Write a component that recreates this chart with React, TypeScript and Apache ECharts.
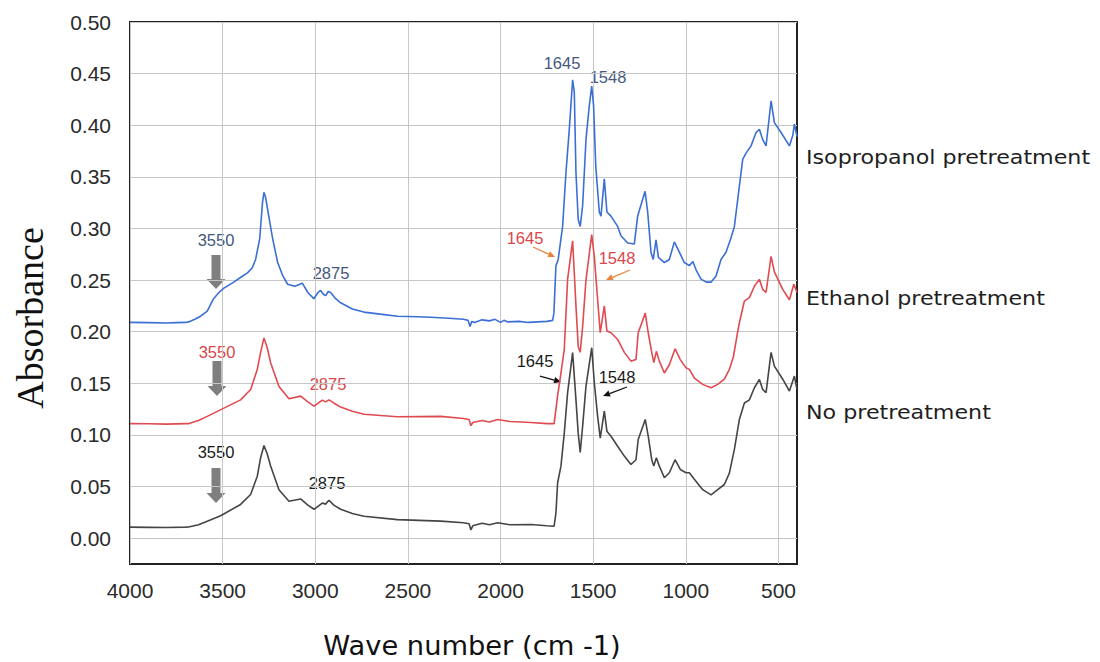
import React, { useEffect, useRef } from "react";
import * as echarts from "echarts";

const seriesNames = ["Isopropanol pretreatment", "Ethanol pretreatment", "No pretreatment"];
const lineColors = ["#3b6fd6", "#e04a50", "#454545"];

const xTicks = [4000, 3500, 3000, 2500, 2000, 1500, 1000, 500];
const yTicks = [0, 0.05, 0.1, 0.15, 0.2, 0.25, 0.3, 0.35, 0.4, 0.45, 0.5];

const isoWave = [4000,3900,3800,3750,3700,3684,3650,3619,3583,3549,3520,3495,3440,3400,3366,3340,3322,3300,3285,3277,3268,3251,3230,3203,3175,3149,3110,3070,3040,3008,2985,2971,2955,2944,2930,2917,2890,2863,2800,2738,2650,2555,2450,2377,2280,2200,2175,2165,2155,2140,2100,2060,2030,2000,1982,1960,1900,1850,1800,1750,1719,1712,1701,1689,1665,1647,1629,1611,1602,1593,1581,1570,1557,1539,1521,1508,1498,1486,1467,1458,1440,1426,1404,1368,1350,1314,1278,1260,1220,1206,1188,1176,1161,1148,1116,1089,1062,1035,1008,981,962,945,918,890,864,837,810,783,756,738,711,693,675,648,621,603,585,567,540,522,486,441,423,414,400];
const isoAbs = [0.209,0.2088,0.2085,0.2088,0.209,0.2095,0.212,0.215,0.22,0.232,0.238,0.242,0.248,0.253,0.257,0.262,0.27,0.29,0.325,0.335,0.33,0.312,0.29,0.267,0.254,0.246,0.244,0.247,0.238,0.232,0.238,0.24,0.236,0.235,0.239,0.238,0.232,0.228,0.222,0.219,0.217,0.215,0.2145,0.214,0.213,0.212,0.211,0.205,0.21,0.209,0.2115,0.2105,0.212,0.209,0.211,0.2095,0.21,0.209,0.2095,0.21,0.211,0.218,0.264,0.27,0.302,0.354,0.396,0.444,0.432,0.354,0.309,0.302,0.322,0.386,0.419,0.438,0.419,0.36,0.316,0.312,0.348,0.316,0.312,0.302,0.293,0.286,0.285,0.312,0.336,0.316,0.277,0.27,0.289,0.272,0.267,0.27,0.287,0.277,0.267,0.264,0.268,0.26,0.251,0.248,0.248,0.254,0.27,0.277,0.291,0.302,0.341,0.367,0.373,0.38,0.393,0.396,0.386,0.38,0.4235,0.4025,0.393,0.38,0.39,0.401,0.389];

const ethWave = [4000,3900,3800,3700,3682,3630,3583,3493,3403,3349,3313,3295,3277,3260,3241,3196,3142,3079,3040,3007,2962,2945,2926,2900,2863,2800,2737,2557,2323,2200,2170,2160,2150,2100,2060,2016,1950,1836,1750,1711,1701,1692,1674,1656,1638,1611,1593,1581,1570,1557,1539,1508,1494,1476,1462,1440,1426,1404,1368,1332,1296,1269,1257,1219,1203,1184,1173,1159,1143,1116,1089,1058,1030,999,981,954,909,864,828,792,765,743,720,711,684,657,630,603,585,567,540,522,477,441,417,400];
const ethAbs = [0.111,0.1108,0.1105,0.111,0.111,0.114,0.118,0.126,0.134,0.144,0.1635,0.18,0.194,0.185,0.17,0.147,0.135,0.1376,0.132,0.128,0.1337,0.132,0.134,0.131,0.127,0.123,0.12,0.1176,0.118,0.116,0.115,0.109,0.112,0.114,0.1125,0.115,0.113,0.112,0.111,0.111,0.125,0.138,0.16,0.183,0.251,0.288,0.225,0.186,0.18,0.205,0.25,0.294,0.273,0.231,0.199,0.225,0.2006,0.199,0.1925,0.18,0.1715,0.173,0.199,0.218,0.199,0.18,0.17,0.181,0.1715,0.16,0.168,0.1835,0.173,0.165,0.1635,0.155,0.149,0.1457,0.149,0.154,0.1635,0.176,0.2,0.2087,0.2297,0.233,0.244,0.2507,0.241,0.238,0.273,0.258,0.241,0.231,0.246,0.238];

const noWave = [4000,3900,3800,3700,3684,3630,3583,3511,3403,3349,3313,3295,3277,3260,3241,3196,3142,3079,3040,3007,2962,2945,2926,2900,2863,2800,2737,2557,2323,2200,2170,2160,2150,2100,2060,2016,1950,1836,1750,1711,1701,1692,1674,1656,1638,1611,1593,1581,1570,1557,1539,1508,1494,1476,1462,1440,1426,1404,1368,1332,1296,1269,1257,1219,1203,1184,1173,1159,1143,1116,1089,1058,1030,999,981,954,909,864,828,792,765,738,711,684,657,630,603,585,567,540,522,477,441,414,400];
const noAbs = [0.0107,0.0105,0.0103,0.0107,0.0108,0.013,0.0165,0.0217,0.0327,0.0423,0.06,0.078,0.0898,0.082,0.07,0.047,0.0358,0.038,0.032,0.028,0.034,0.033,0.0368,0.032,0.028,0.024,0.0213,0.018,0.0165,0.015,0.014,0.008,0.012,0.0145,0.013,0.015,0.013,0.0133,0.012,0.0116,0.0246,0.0537,0.0698,0.102,0.141,0.1797,0.134,0.102,0.083,0.1085,0.147,0.1845,0.1506,0.118,0.097,0.123,0.1037,0.0988,0.089,0.0795,0.0714,0.076,0.0956,0.115,0.0988,0.076,0.0698,0.078,0.0698,0.0585,0.0634,0.076,0.0666,0.0634,0.0634,0.057,0.047,0.042,0.047,0.052,0.063,0.086,0.115,0.131,0.134,0.1457,0.1538,0.144,0.141,0.18,0.1667,0.154,0.1425,0.157,0.144];

const seriesWaves = [isoWave, ethWave, noWave];
const seriesAbs = [isoAbs, ethAbs, noAbs];

const ANN_FONT = "Liberation Sans";

function txt(x: number, y: number, s: string, color: string, size = 16.5, font = ANN_FONT, scaleX = 1) {
  return {
    type: "text",
    x,
    y,
    scaleX,
    style: { text: s, fill: color, font: `${size}px "${font}"`, textAlign: "center", textVerticalAlign: "middle" },
    silent: true,
  };
}

function sideLabel(y: number, s: string) {
  return {
    type: "text",
    x: 806,
    y,
    scaleX: 1.11,
    style: { text: s, fill: "#1e1e1e", font: '20px "DejaVu Sans"', textAlign: "left", textVerticalAlign: "middle" },
    silent: true,
  };
}

function blockArrow(cx: number, y0: number, y1: number, y2: number) {
  return {
    type: "polygon",
    shape: {
      points: [
        [cx - 4.5, y0], [cx + 4.5, y0], [cx + 4.5, y1], [cx + 9.5, y1],
        [cx, y2], [cx - 9.5, y1], [cx - 4.5, y1],
      ],
    },
    style: { fill: "#7f7f7f" },
    silent: true,
  };
}

function smallArrow(x1: number, y1: number, x2: number, y2: number, color: string) {
  const dx = x2 - x1, dy = y2 - y1;
  const len = Math.sqrt(dx * dx + dy * dy);
  const ux = dx / len, uy = dy / len;
  const hl = 7, hw = 3.2;
  const bx = x2 - ux * hl, by = y2 - uy * hl;
  return [
    { type: "line", shape: { x1, y1, x2: bx, y2: by }, style: { stroke: color, lineWidth: 1.3 }, silent: true },
    {
      type: "polygon",
      shape: { points: [[x2, y2], [bx - uy * hw, by + ux * hw], [bx + uy * hw, by - ux * hw]] },
      style: { fill: color },
      silent: true,
    },
  ];
}

export default function App() {
  const ref = useRef<HTMLDivElement>(null);
  useEffect(() => {
    if (!ref.current) return;
    const chart = echarts.init(ref.current, null, { renderer: "svg" });
    const blueTxt = "#44587c";
    const redTxt = "#d9474a";
    const blackTxt = "#1a1a1a";
    const orange = "#e8843c";
    const graphics: any[] = [
      {
        type: "text",
        x: 30,
        y: 318,
        rotation: Math.PI / 2,
        style: { text: "Absorbance", fill: "#111", font: '38px "Liberation Serif"', textAlign: "center", textVerticalAlign: "middle" },
        silent: true,
      },
      txt(472, 646, "Wave number (cm -1)", "#111", 26, "DejaVu Sans", 1.05),
      sideLabel(157, seriesNames[0]),
      sideLabel(298, seriesNames[1]),
      sideLabel(412, seriesNames[2]),
      txt(216, 240, "3550", blueTxt),
      blockArrow(216, 255, 279, 289),
      txt(217, 352, "3550", redTxt),
      blockArrow(217, 361, 386, 396),
      txt(216, 452, "3550", blackTxt),
      blockArrow(216, 468, 493, 503),
      txt(331, 273, "2875", blueTxt),
      txt(328, 384, "2875", redTxt),
      txt(327, 483, "2875", blackTxt),
      txt(562, 63, "1645", blueTxt),
      txt(608, 77, "1548", blueTxt),
      txt(525, 238, "1645", redTxt),
      ...smallArrow(533, 247, 555, 257, orange),
      txt(617, 258, "1548", redTxt),
      ...smallArrow(630, 270, 606, 280, orange),
      txt(535, 361, "1645", blackTxt),
      ...smallArrow(540, 376, 561, 382, "#111"),
      txt(617, 377, "1548", blackTxt),
      ...smallArrow(627, 387, 603, 396, "#111"),
    ];

    chart.setOption({
      animation: false,
      backgroundColor: "#ffffff",
      grid: { left: 130, right: 303, top: 22, bottom: 98, show: true, borderColor: "#222", borderWidth: 2, backgroundColor: "transparent" },
      xAxis: {
        type: "value",
        inverse: true,
        min: 400,
        max: 4000,
        axisLine: { show: false },
        axisTick: { show: false, customValues: xTicks },
        axisLabel: {
          customValues: xTicks,
          color: "#2a2a2a",
          fontSize: 21,
          fontFamily: "Liberation Sans",
          margin: 16,
          formatter: (v: number) => String(v),
        },
        splitLine: { show: true, lineStyle: { color: "#c6c6c6", width: 1 } },
      },
      yAxis: {
        type: "value",
        min: -0.025,
        max: 0.5,
        axisLine: { show: false },
        axisTick: { show: false, customValues: yTicks },
        axisLabel: {
          customValues: yTicks,
          color: "#2a2a2a",
          fontSize: 21,
          fontFamily: "Liberation Sans",
          margin: 19,
          formatter: (v: number) => v.toFixed(2),
        },
        splitLine: { show: true, lineStyle: { color: "#c6c6c6", width: 1 } },
      },
      series: seriesNames.map((name, i) => ({
        name,
        type: "line",
        data: seriesWaves[i].map((w, j) => [w, seriesAbs[i][j]]),
        showSymbol: false,
        symbol: "none",
        lineStyle: { color: lineColors[i], width: 1.6 },
        itemStyle: { color: lineColors[i] },
        z: 5 - i,
      })),
      graphic: graphics,
    });
    return () => chart.dispose();
  }, []);
  return <div ref={ref} style={{ position: "fixed", left: 0, top: 0, width: 1100, height: 662, background: "#fff" }} />;
}
